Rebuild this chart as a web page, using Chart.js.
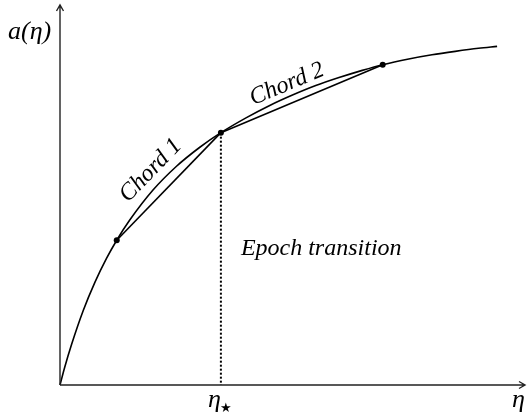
<!DOCTYPE html>
<html>
<head>
<meta charset="utf-8">
<script src="https://cdn.jsdelivr.net/npm/chart.js@4.4.1/dist/chart.umd.min.js"></script>
<style>
  html, body { margin: 0; padding: 0; background: #fff; }
  #wrap { width: 529px; height: 415px; }
</style>
</head>
<body>
<div id="wrap"><canvas id="c" width="529" height="415"></canvas></div>
<script>
// a(eta) sketch: concave curve, two chords, epoch transition at eta*.

// curve samples (eta on 0..10, a on 0..1)
const etaCurve = [0, 0.1, 0.25, 0.5, 0.75, 1.0, 1.22, 1.5, 2.0, 2.5, 3.0, 3.46, 4.0, 4.5, 5.0, 5.5, 6.0, 6.5, 6.94, 7.5, 8.0, 8.5, 9.0, 9.4];
const aCurve   = [0, 0.046, 0.107, 0.196, 0.270, 0.333, 0.381, 0.434, 0.513, 0.575, 0.625, 0.664, 0.703, 0.735, 0.763, 0.788, 0.809, 0.828, 0.843, 0.858, 0.869, 0.878, 0.886, 0.891];

// marked points (chord ends)
const etaMarks = [1.22, 3.46, 6.94];
const aMarks   = [0.381, 0.664, 0.843];

const chordLabels = ["Chord 1", "Chord 2"];
const etaStar = 3.46;
const xTicks = [{ value: etaStar, label: "η", sub: "★" }];
const xTitle = "η";
const yTitle = "a(η)";
const note = "Epoch transition";

const ink = "#000";
const serif = '"Liberation Serif", "DejaVu Serif", serif';

const pts = (xs, ys) => xs.map((x, i) => ({ x, y: ys[i] }));

const datasets = [
  { data: pts(etaCurve, aCurve), borderColor: ink, borderWidth: 1.6,
    cubicInterpolationMode: "monotone", pointRadius: 0, showLine: true, clip: false },
  ...chordLabels.map((_, i) => ({
    data: pts(etaMarks.slice(i, i + 2), aMarks.slice(i, i + 2)),
    borderColor: ink, borderWidth: 1.6, tension: 0, pointRadius: 0, showLine: true, clip: false })),
  { data: [{ x: etaStar, y: aMarks[1] }, { x: etaStar, y: 0 }],
    borderColor: ink, borderWidth: 2, borderDash: [2, 2], pointRadius: 0, showLine: true, clip: false },
  { data: pts(etaMarks, aMarks), showLine: false, pointRadius: 3,
    pointBackgroundColor: ink, pointBorderWidth: 0, clip: false },
];

// axes, arrows and all text
const sketch = {
  id: "sketch",
  afterDatasetsDraw(chart) {
    const { ctx, chartArea: ca, scales: { x, y } } = chart;
    const x0 = x.getPixelForValue(0), y0 = y.getPixelForValue(0);
    ctx.save();
    ctx.strokeStyle = "#222";
    ctx.fillStyle = ink;
    ctx.lineWidth = 1.4;
    ctx.beginPath();
    ctx.moveTo(x0, y0); ctx.lineTo(x0, ca.top);
    ctx.moveTo(x0, y0); ctx.lineTo(ca.right, y0);
    // arrow heads
    ctx.moveTo(x0 - 3.5, ca.top + 6); ctx.lineTo(x0, ca.top); ctx.lineTo(x0 + 3.5, ca.top + 6);
    ctx.moveTo(ca.right - 6, y0 - 3.5); ctx.lineTo(ca.right, y0); ctx.lineTo(ca.right - 6, y0 + 3.5);
    ctx.stroke();

    ctx.font = `italic 26px ${serif}`;
    ctx.textBaseline = "alphabetic";
    ctx.textAlign = "left";
    ctx.fillText(yTitle, 8, 39);
    ctx.textAlign = "right";
    ctx.fillText(xTitle, ca.right, 407);

    xTicks.forEach((t) => {
      const px = x.getPixelForValue(t.value);
      ctx.font = `italic 26px ${serif}`;
      ctx.textAlign = "right";
      ctx.fillText(t.label, px, 407);
      ctx.font = `13px "DejaVu Sans", sans-serif`;
      ctx.textAlign = "left";
      ctx.fillText(t.sub, px - 1, 412);
    });

    // chord labels, rotated along each chord
    ctx.font = `italic 24px ${serif}`;
    ctx.textAlign = "center";
    ctx.textBaseline = "middle";
    const offs = [[-1, 24], [-8, 19]];
    chordLabels.forEach((lab, i) => {
      const ax = x.getPixelForValue(etaMarks[i]), ay = y.getPixelForValue(aMarks[i]);
      const bx = x.getPixelForValue(etaMarks[i + 1]), by = y.getPixelForValue(aMarks[i + 1]);
      const ang = Math.atan2(by - ay, bx - ax);
      ctx.save();
      ctx.translate((ax + bx) / 2, (ay + by) / 2);
      ctx.rotate(ang);
      ctx.fillText(lab, offs[i][0], -offs[i][1]);
      ctx.restore();
    });

    ctx.textAlign = "left";
    ctx.textBaseline = "alphabetic";
    ctx.font = `italic 24px ${serif}`;
    ctx.fillText(note, x.getPixelForValue(etaStar) + 20, 255);
    ctx.restore();
  },
};

new Chart(document.getElementById("c"), {
  type: "scatter",
  data: { datasets },
  options: {
    responsive: false,
    animation: false,
    devicePixelRatio: 1,
    layout: { padding: { left: 60, right: 1, top: 5, bottom: 30 } },
    plugins: { legend: { display: false }, tooltip: { enabled: false } },
    scales: {
      x: { type: "linear", min: 0, max: 10, display: false },
      y: { type: "linear", min: 0, max: 1, display: false },
    },
  },
  plugins: [sketch],
});
</script>
</body>
</html>
